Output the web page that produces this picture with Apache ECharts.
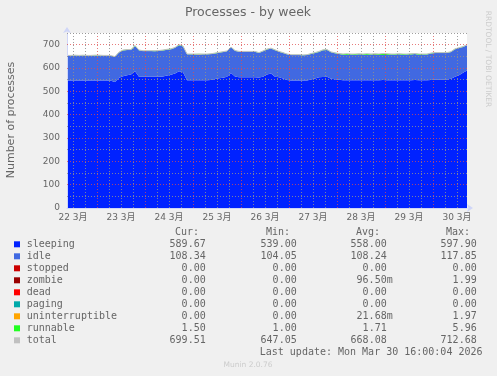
<!DOCTYPE html>
<html><head><meta charset="utf-8">
<script src="https://cdn.jsdelivr.net/npm/echarts@6/dist/echarts.min.js"></script>
<style>html,body{margin:0;padding:0;background:#f0f0f0;}#c{width:497px;height:376px;}</style>
</head><body><div id="c"></div>
<script>
// sample times, hours since 22 Mar 00:00
const hours = [9,11,13,15,17,19,21,23,25,27,29,31,33,35,37,39,41,43,45,47,49,51,53,55,57,59,61,63,65,67,69,71,73,75,77,79,81,83,85,87,89,91,93,95,97,99,101,103,105,107,109,111,113,115,117,119,121,123,125,127,129,131,133,135,137,139,141,143,145,147,149,151,153,155,157,159,161,163,165,167,169,171,173,175,177,179,181,183,185,187,189,191,193,195,197,199,201,203,205,207,209];
const sleeping = [546,546,546,546,546,546,546,546,546,546,546,545,540,558,565,569,572,586,563,562,562,562,562,562,564,568,571,576,586,582,548,547,547,547,547,547,549,553,556,558,562,579,564,560,560,560,560,560,559,562,572,576,562,560,555,549,546,546,546,546,546,551,555,560,561,562,554,552,550,547,547,547,547,547,548,547,547,547,547,549,547,547,547,547,547,547,547,549,547,547,547,549,551,551,551,551,554,563,569,580,589.67];
const idle = [106.5,107,107.5,106,107.5,107,106.5,107,107.5,107,106.5,106.5,108,108.5,110,108.5,105.5,108,112.5,110.5,111,110.5,110,111.5,111.5,110.5,109,110.5,112,110.5,110.5,111.5,111,110.5,111.5,112,110.5,109.5,109,110.5,109.5,109,109.5,109.5,109,109.5,109.5,109.5,105.5,109.5,107.5,107.5,114.5,109.5,109.5,109.5,109.5,109.5,110,108.5,109.5,109.5,109.5,109,115.5,115.5,113.5,111.5,110,110,109,111,109,112,109,109,111,109,109,107,109,111,110,112,109,111,111,111,109,111,111,113.5,113.5,113,113.5,113.5,114.5,117.5,116.5,110.5,108.34];
const stopped = [0,0,0,0,0,0,0,0,0,0,0,0,0,0,0,0,0,0,0,0,0,0,0,0,0,0,0,0,0,0,0,0,0,0,0,0,0,0,0,0,0,0,0,0,0,0,0,0,0,0,0,0,0,0,0,0,0,0,0,0,0,0,0,0,0,0,0,0,0,0,0,0,0,0,0,0,0,0,0,0,0,0,0,0,0,0,0,0,0,0,0,0,0,0,0,0,0,0,0,0,0];
const zombie = [0,0,0,0,0,0,0,0,0,0,0,0,0,0,0,0,0,0,0,0,0,0,0,0,0,0,0,0,0,0,0,0,0,0,0,0,0,0,0,0,0,0,0,0,0,0,0,0,0,0,0,0,0,0,0,0,0,0,0,0,0,0,0,0,0,0,0,0,0,0,0,0,0,0,0,0,0,2,0,0,0,0,0,0,0,0,0,0,0,0,0,0,0,0,0,0,0,0,0,0,0];
const dead = stopped.slice();
const paging = stopped.slice();
const uninterruptible = [0,0,0,0,0,0,0,0,0,0,0,0,0,0,0,0,0,0,0,0,0,0,0,0,0,0,0,0,0,0,0,0,0,2,0,0,0,0,0,0,0,0,0,0,0,0,0,0,0,0,0,0,0,0,0,0,0,0,0,0,0,0,0,0,0,0,0,0,0,0,0,0,0,0,0,0,0,0,0,0,0,0,0,0,0,0,0,0,0,0,0,0,0,0,0,0,0,0,0,0,0];
const runnable = [1.5,1,1.5,2,1.5,1,1.5,2,1.5,1,1.5,1.5,1,1.5,2,1.5,1.5,2,1.5,1.5,1,1.5,2,1.5,1.5,1.5,2,1.5,2,1.5,1.5,1.5,2,1.5,1.5,1,1.5,1.5,2,1.5,1.5,2,1.5,1.5,2,1.5,1.5,1.5,1.5,1.5,1.5,1.5,1.5,1.5,1.5,1.5,1.5,1.5,1,1.5,1.5,1.5,1.5,2,1.5,1.5,1.5,1.5,2,3,5,2,4,2,3,5,2,3,4,6,5,2,3,2,4,2,3,2,4,2,2,1.5,1.5,2,1.5,1.5,1.5,1.5,1.5,1.5,1.5];
const total = [654,654,655,654,655,654,654,655,655,654,654,653,649,668,677,679,679,696,677,674,674,674,674,675,677,680,682,688,700,694,660,660,660,659,660,660,661,664,667,670,673,690,675,671,671,671,671,671,666,673,681,685,678,671,666,660,657,657,657,656,657,662,666,671,678,679,669,665,662,660,661,660,660,661,660,661,660,661,660,662,661,660,660,661,660,660,661,662,660,660,660,664,666,666,666,666,670,682,687,692,699.51];

const labelHours = [12,36,60,84,108,132,156,180,204];
const dayLabels = ['22 3月','23 3月','24 3月','25 3月','26 3月','27 3月','28 3月','29 3月','30 3月'];
const gridHours = [12,18,24,30,36,42,48,54,60,66,72,78,84,90,96,102,108,114,120,126,132,138,144,150,156,162,168,174,180,186,192,198,204];
const gridValues = [50,100,150,200,250,300,350,400,450,500,550,600,650,700,750];

const names = ['sleeping','idle','stopped','zombie','dead','paging','uninterruptible','runnable','total'];
const colors = ['#0022ff','#4169e1','#cc0000','#990000','#ff0000','#00aaaa','#ffa500','#22ff22','#c0c0c0'];
const curVals = ['589.67','108.34','0.00','0.00','0.00','0.00','0.00','1.50','699.51'];
const minVals = ['539.00','104.05','0.00','0.00','0.00','0.00','0.00','1.00','647.05'];
const avgVals = ['558.00','108.24','0.00','96.50m','0.00','0.00','21.68m','1.71','668.08'];
const maxVals = ['597.90','117.85','0.00','1.99','0.00','0.00','1.97','5.96','712.68'];

const stackData = [sleeping, idle, stopped, zombie, dead, paging, uninterruptible, runnable];

const GRID = 'rgba(143,143,143,0.85)';
const MGRID = 'rgba(222,79,79,0.75)';
const FONT = "'DejaVu Sans','Noto Sans CJK JP',sans-serif";
const MONO = "'DejaVu Sans Mono',monospace";
const TXT = '#666666';

const series = stackData.map((arr, k) => ({
  name: names[k], type: 'line', stack: 'p', data: arr, xAxisIndex: 0,
  symbol: 'none', lineStyle: {width: 0}, areaStyle: {color: colors[k], opacity: 1},
  itemStyle: {color: colors[k]}, z: 2
}));
series.push({name: 'total', type: 'line', data: total, xAxisIndex: 0, symbol: 'none',
  lineStyle: {width: 1, color: colors[8]}, itemStyle: {color: colors[8]}, z: 2});

// grid lines drawn on top of the areas (as rrdtool does)
const gridLines = [];
gridHours.forEach(h => gridLines.push({xAxis: h, lineStyle: {color: (h % 24 === 0) ? MGRID : GRID, type: [1, 2], width: 1}}));
gridValues.forEach(v => gridLines.push({yAxis: v, lineStyle: {color: (v % 100 === 0) ? MGRID : GRID, type: [1, 2], width: 1}}));
series.push({name: 'grid', type: 'line', xAxisIndex: 1, data: [[9, 0]], symbol: 'none', lineStyle: {width: 0}, z: 10, silent: true,
  markLine: {silent: true, symbol: ['none', 'none'], label: {show: false}, animation: false, data: gridLines}});

const graphics = [];
graphics.push({type: 'text', x: 248, y: 13, style: {text: 'Processes - by week', font: '12.5px ' + FONT, fill: TXT, textAlign: 'center', textVerticalAlign: 'middle'}});
graphics.push({type: 'text', x: 11, y: 120, rotation: Math.PI / 2, style: {text: 'Number of processes', font: '11px ' + FONT, fill: TXT, textAlign: 'center', textVerticalAlign: 'middle'}});
graphics.push({type: 'text', x: 488, y: 59, rotation: -Math.PI / 2, style: {text: 'RRDTOOL / TOBI OETIKER', font: '7.5px ' + FONT, fill: '#cccccc', textAlign: 'center', textVerticalAlign: 'middle'}});
graphics.push({type: 'text', x: 248, y: 365, style: {text: 'Munin 2.0.76', font: '7.5px ' + FONT, fill: '#cccccc', textAlign: 'center', textVerticalAlign: 'middle'}});
const hdrY = 232.7;
[['Cur:', 199], ['Min:', 290], ['Avg:', 380], ['Max:', 470]].forEach(([t, x]) => {
  graphics.push({type: 'text', x: x, y: hdrY, style: {text: t, font: '10px ' + MONO, fill: TXT, textAlign: 'right', textVerticalAlign: 'middle'}});
});
const cols = [[curVals, 205.7], [minVals, 296.7], [avgVals, 386.7], [maxVals, 476.7]];
names.forEach((n, k) => {
  const y = 244.3 + 12 * k;
  graphics.push({type: 'rect', shape: {x: 14, y: y - 3, width: 6, height: 6}, style: {fill: colors[k]}});
  graphics.push({type: 'text', x: 26.7, y: y, style: {text: n, font: '10px ' + MONO, fill: TXT, textAlign: 'left', textVerticalAlign: 'middle'}});
  cols.forEach(([arr, x]) => {
    const v = arr[k];
    const xr = /m$/.test(v) ? x + 6 : x;
    graphics.push({type: 'text', x: xr, y: y, style: {text: v, font: '10px ' + MONO, fill: TXT, textAlign: 'right', textVerticalAlign: 'middle'}});
  });
});
graphics.push({type: 'text', x: 482.5, y: 352.7, style: {text: 'Last update: Mon Mar 30 16:00:04 2026', font: '10px ' + MONO, fill: TXT, textAlign: 'right', textVerticalAlign: 'middle'}});

const chart = echarts.init(document.getElementById('c'), null, {renderer: 'canvas'});
chart.setOption({
  animation: false,
  backgroundColor: '#f0f0f0',
  grid: {left: 67, top: 33, width: 400, height: 175, show: true, backgroundColor: '#ffffff', borderWidth: 0},
  xAxis: [{
    type: 'category', data: hours, boundaryGap: false, show: false, position: 'top'
  }, {
    type: 'value', min: 9, max: 209, z: 3, position: 'bottom',
    axisLine: {show: true, lineStyle: {color: '#CFD6F8'}, symbol: ['none', 'arrow'], symbolSize: [6, 6], symbolOffset: [0, 6]},
    axisTick: {show: false, customValues: labelHours},
    axisLabel: {customValues: labelHours, formatter: v => dayLabels[labelHours.indexOf(v)] || '', color: TXT, fontFamily: FONT, fontSize: 9, margin: 5},
    splitLine: {show: false}
  }],
  yAxis: {
    type: 'value', min: 0, max: 750, interval: 50, z: 3,
    axisLine: {show: true, lineStyle: {color: '#CFD6F8'}, symbol: ['none', 'arrow'], symbolSize: [6, 6], symbolOffset: [0, 6]},
    axisTick: {show: false},
    axisLabel: {formatter: v => (v % 100 === 0 && v <= 700) ? String(v) : '', color: TXT, fontFamily: FONT, fontSize: 9, margin: 7},
    splitLine: {show: false}
  },
  series: series,
  graphic: graphics
});
</script></body></html>
